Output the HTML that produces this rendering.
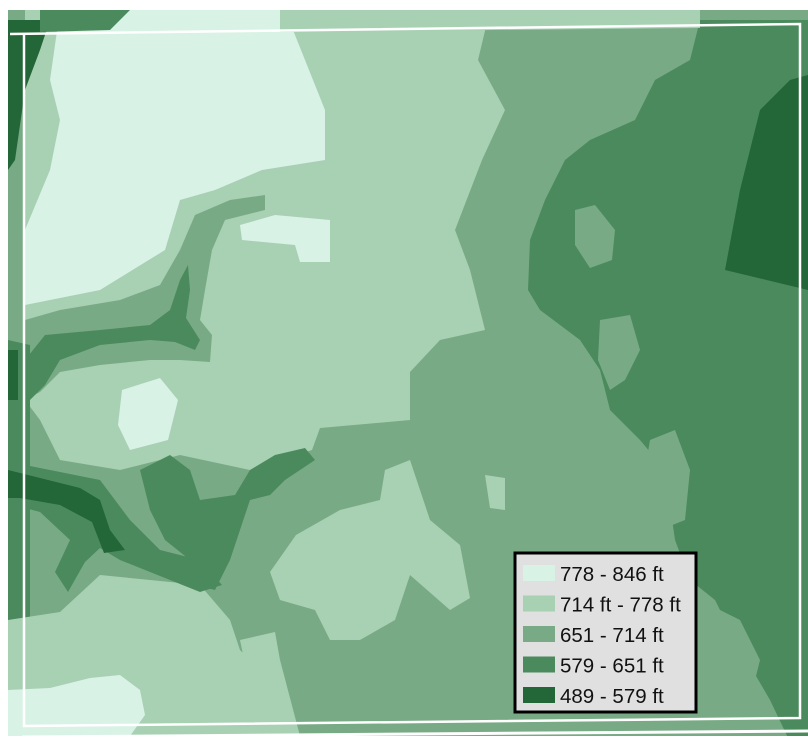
<!DOCTYPE html>
<html><head><meta charset="utf-8"><style>
html,body{margin:0;padding:0;background:#fff;}
svg{display:block;}
text{font-family:"Liberation Sans",Arial,sans-serif;}
</style></head><body>
<svg width="808" height="742" viewBox="0 0 808 742">
<defs><clipPath id="mc"><rect x="8" y="10" width="800" height="726"/></clipPath></defs>
<g clip-path="url(#mc)">
<rect x="8" y="10" width="800" height="726" fill="#78ab85"/>
<polygon fill="#a8d1b4" points="20,10 490,10 478,60 505,110 482,160 455,230 470,270 485,330 440,340 410,372 410,420 320,428 312,450 250,470 180,455 120,470 60,460 40,420 25,400 20,340"/>
<polygon fill="#d9f2e6" points="60,10 285,10 305,60 325,110 325,160 262,170 215,190 180,200 165,250 100,290 25,305 25,230 50,170 60,120 50,80"/>
<polygon fill="#d9f2e6" points="240,225 275,215 330,220 330,262 300,262 295,245 242,240"/>
<polygon fill="#d9f2e6" points="90,170 112,168 112,200 90,200"/>
<polygon fill="#d9f2e6" points="122,390 160,378 178,400 168,440 130,450 118,425"/>
<polygon fill="#78ab85" points="25,320 60,310 120,300 160,285 180,250 195,215 230,200 265,195 265,210 225,220 212,250 205,290 200,320 212,335 210,362 180,360 150,360 100,365 60,372 40,392 25,400"/>
<polygon fill="#4b8a5c" points="45,335 100,330 150,325 170,310 180,280 188,265 190,290 186,318 200,340 195,350 175,342 150,340 100,345 60,360 45,385 25,405 25,360"/>
<polygon fill="#78ab85" points="8,10 25,10 25,736 8,736"/>
<polygon fill="#4b8a5c" points="8,340 30,345 30,620 8,620"/>
<polygon fill="#a8d1b4" points="296,535 340,510 380,500 385,470 410,460 430,520 460,545 470,598 450,610 410,575 395,620 360,640 330,640 315,610 280,600 270,572"/>
<polygon fill="#a8d1b4" points="485,475 505,478 505,510 490,508"/>
<polygon fill="#a8d1b4" points="8,620 60,612 100,575 150,580 200,585 230,620 240,650 270,680 285,736 8,736"/>
<polygon fill="#a8d1b4" points="240,640 275,632 280,660 300,736 260,736"/>
<polygon fill="#d9f2e6" points="8,690 50,688 90,678 120,675 140,690 145,715 130,736 8,736"/>
<polygon fill="#4b8a5c" points="140,470 170,455 190,470 200,500 235,495 250,470 275,455 305,448 315,460 285,480 270,495 250,500 240,530 230,560 215,590 195,585 190,560 165,540 150,510"/>
<polygon fill="#4b8a5c" points="25,465 60,472 100,480 130,520 160,550 200,560 222,585 200,592 150,572 120,560 100,548 85,562 68,592 55,572 70,540 40,512 25,508"/>
<polygon fill="#236637" points="8,470 40,478 80,488 100,500 110,530 125,550 104,553 92,522 60,505 20,498 8,498"/>
<polygon fill="#236637" points="8,20 50,20 40,50 25,90 15,160 8,170"/>
<polygon fill="#236637" points="8,350 18,350 18,400 8,400"/>
<polygon fill="#4b8a5c" points="700,20 808,20 808,742 790,742 770,700 735,640 715,600 690,580 675,540 665,470 640,440 610,410 600,370 580,340 540,310 528,290 530,240 545,200 565,160 590,140 635,120 655,80 690,60"/>
<polygon fill="#78ab85" points="575,210 595,205 615,230 612,260 590,268 575,245"/>
<polygon fill="#78ab85" points="600,320 630,315 640,350 625,380 610,390 598,360"/>
<polygon fill="#78ab85" points="650,440 675,430 690,470 685,520 660,530 640,500"/>
<polygon fill="#78ab85" points="700,600 740,620 760,660 750,700 790,740 700,740"/>
<polygon fill="#236637" points="760,110 790,80 808,75 808,290 725,270 740,190"/>
<polygon fill="#a8d1b4" points="280,10 700,10 700,28 280,32"/>
<polygon fill="#4b8a5c" points="40,10 130,10 110,30 40,32"/>
</g>
<polyline fill="none" stroke="#fff" stroke-width="2.5" points="10,34 800,24 800,718 24,726 24,34"/>
<line x1="22" y1="737" x2="808" y2="731" stroke="#fff" stroke-width="3"/>
<rect x="0" y="736" width="808" height="6" fill="#fff"/>
<g>
<rect x="515" y="553" width="181" height="159" fill="#e0e0e0" stroke="#000" stroke-width="3"/>
<rect x="523" y="565" width="32" height="16" fill="#d9f2e6"/>
<text x="560" y="581" font-size="20.5" fill="#111">778 - 846 ft</text>
<rect x="523" y="595.5" width="32" height="16" fill="#a8d1b4"/>
<text x="560" y="611.5" font-size="20.5" fill="#111">714 ft - 778 ft</text>
<rect x="523" y="626" width="32" height="16" fill="#78ab85"/>
<text x="560" y="642" font-size="20.5" fill="#111">651 - 714 ft</text>
<rect x="523" y="656.5" width="32" height="16" fill="#4b8a5c"/>
<text x="560" y="672.5" font-size="20.5" fill="#111">579 - 651 ft</text>
<rect x="523" y="687" width="32" height="16" fill="#236637"/>
<text x="560" y="703" font-size="20.5" fill="#111">489 - 579 ft</text>
</g>
</svg>
</body></html>
